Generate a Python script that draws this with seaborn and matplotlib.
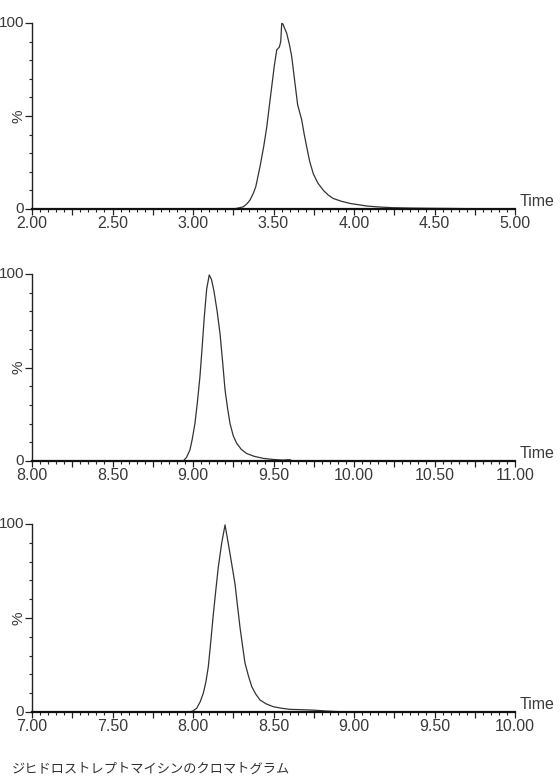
import matplotlib
matplotlib.use("Agg")
import matplotlib.pyplot as plt
import matplotlib.ticker as mticker
import numpy as np
import pandas as pd
import seaborn as sns

# ---- data ----
t1 = [2.00, 3.25, 3.28, 3.313, 3.335, 3.354, 3.375, 3.39, 3.416, 3.44, 3.458, 3.475, 3.489,
      3.505, 3.52, 3.536, 3.545, 3.551, 3.558, 3.565, 3.582, 3.60, 3.613, 3.63, 3.650, 3.675,
      3.69, 3.706, 3.725, 3.747, 3.775, 3.81, 3.84, 3.87, 3.92, 3.975, 4.08, 4.15, 4.24, 4.35,
      4.45, 4.60, 4.70, 5.00]
y1 = [0, 0, 0.5, 1.2, 2.8, 4.8, 8.5, 12, 22.7, 34, 44, 56, 65.8,
      77, 85.5, 87, 90, 99.8, 99.5, 98, 94.5, 88, 82, 70, 56, 48,
      40.5, 33.5, 25.5, 19, 14, 10, 7.5, 5.7, 4.2, 3, 1.6, 1.1, 0.7, 0.5,
      0.4, 0.3, 0.2, 0]

t2 = [8.00, 8.94, 8.96, 8.981, 8.995, 9.012, 9.028, 9.043, 9.057, 9.07, 9.085, 9.101, 9.115,
      9.13, 9.15, 9.168, 9.185, 9.199, 9.215, 9.23, 9.25, 9.271, 9.30, 9.333, 9.38, 9.437,
      9.50, 9.56, 9.60, 9.62, 11.00]
y2 = [0, 0, 2, 5.9, 11.5, 20, 32, 45, 61, 77, 92, 99.5, 97,
      91, 80, 68, 52, 38, 28, 20, 13.5, 9.5, 6.2, 4, 2.5, 1.4,
      0.8, 0.5, 0.7, 0, 0]

t3 = [7.00, 7.981, 8.00, 8.023, 8.045, 8.064, 8.08, 8.095, 8.11, 8.126, 8.142, 8.157, 8.178,
      8.199, 8.219, 8.24, 8.261, 8.277, 8.292, 8.308, 8.323, 8.345, 8.365, 8.39, 8.416, 8.455,
      8.499, 8.55, 8.602, 8.68, 8.747, 8.83, 8.95, 10.00]
y3 = [0, 0, 0.6, 2, 5.5, 10, 16, 24, 37, 51.8, 65, 77, 89.7,
      99.5, 89.7, 79, 68, 56, 45, 35, 26, 19, 13.5, 9.5, 6.4, 4.3,
      2.8, 2, 1.4, 1.2, 1, 0.5, 0, 0]

x_ranges = [(2.0, 5.0), (8.0, 11.0), (7.0, 10.0)]
y_labels = ["0", "%", "100"]
x_label = "Time"
caption = "ジヒドロストレプトマイシンのクロマトグラム"

sns.set_theme(style="white")
plt.rcParams["font.family"] = ["Liberation Sans", "DejaVu Sans"]

fig = plt.figure(figsize=(5.6, 7.79), dpi=100)
W, H = 560, 779
panels_px = [(23, 209), (274, 461), (524, 712)]
left_px, right_px = 32, 515

text_color = "#3a3a3a"
line_color = "#333333"

series = [(t1, y1), (t2, y2), (t3, y3)]
for (top, bot), (tt, yy), (x0, x1) in zip(panels_px, series, x_ranges):
    ax = fig.add_axes([left_px / W, 1 - bot / H, (right_px - left_px) / W, (bot - top) / H])
    df = pd.DataFrame({"time": tt, "pct": yy})
    sns.lineplot(data=df, x="time", y="pct", ax=ax, color=line_color, linewidth=0.9,
                 clip_on=False)
    ax.set_xlim(x0, x1)
    ax.set_ylim(0, 100)
    ax.set_xlabel("")
    ax.set_ylabel("")
    for s in ["top", "right"]:
        ax.spines[s].set_visible(False)
    ax.spines["left"].set_color("#222222")
    ax.spines["left"].set_linewidth(1.0)
    ax.spines["bottom"].set_color("#111111")
    ax.spines["bottom"].set_linewidth(1.6)

    # x ticks: 0.25 major (labels at 0.5 only), 0.05 minor
    ax.xaxis.set_major_locator(mticker.MultipleLocator(0.25))
    ax.xaxis.set_minor_locator(mticker.MultipleLocator(0.05))
    ax.xaxis.set_major_formatter(mticker.FuncFormatter(
        lambda v, p: f"{v:.2f}" if abs(v * 2 - round(v * 2)) < 1e-6 else ""))
    ax.tick_params(axis="x", which="major", direction="out", length=4, width=0.9,
                   color="#222222", pad=1, labelsize=11.5, labelcolor=text_color, bottom=True)
    ax.tick_params(axis="x", which="minor", direction="out", length=2.5, width=0.8,
                   color="#222222", bottom=True)

    # y ticks: 0/50/100 major, every 10 minor
    ax.yaxis.set_major_locator(mticker.FixedLocator([0, 50, 100]))
    ax.yaxis.set_minor_locator(mticker.MultipleLocator(10))
    ax.set_yticklabels(["", "", ""])
    ax.tick_params(axis="y", which="major", direction="out", length=5, width=0.9,
                   color="#222222", left=True, labelsize=10)
    ax.tick_params(axis="y", which="minor", direction="out", length=2.5, width=0.8,
                   color="#222222", left=True)
    ax.text(-0.016, 100, y_labels[2], transform=ax.get_yaxis_transform(),
            ha="right", va="center", fontsize=11, color=text_color)
    ax.text(-0.016, 0, y_labels[0], transform=ax.get_yaxis_transform(),
            ha="right", va="center", fontsize=11, color=text_color)
    ax.text(-0.028, 50, y_labels[1], transform=ax.get_yaxis_transform(),
            ha="center", va="center", fontsize=11, rotation=90, color=text_color)
    ax.text(1.01, 0, x_label, transform=ax.transAxes, ha="left", va="bottom",
            fontsize=11.5, color=text_color)

fig.text(12 / W, 3 / H, caption, ha="left", va="bottom", fontsize=9.5,
         color="#333333", family=["Noto Sans CJK JP", "DejaVu Sans"])

fig.savefig("out.png", dpi=100)
